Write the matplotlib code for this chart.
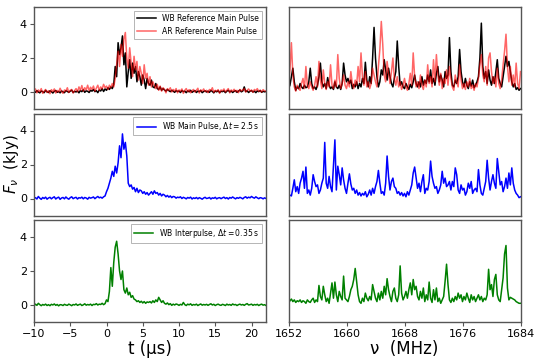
import numpy as np
import matplotlib
matplotlib.use("Agg")
import matplotlib.pyplot as plt

# time axis (us), 0.2 us bins
t = np.linspace(-10, 22, 161)
# frequency axis (MHz), 0.2 MHz channels
nu = np.linspace(1652, 1684, 161)

# ---- pulse profiles (kJy) ----
wb_ref_t = [
    0.05, -0.02, 0.08, 0.00, -0.05, 0.06, 0.02, -0.04, 0.10, 0.01,
    -0.03, 0.07, 0.02, -0.06, 0.04, 0.09, -0.02, 0.03, -0.05, 0.06,
    0.01, -0.04, 0.08, 0.03, -0.02, 0.05, 0.11, -0.03, 0.04, 0.00,
    0.06, -0.05, 0.09, 0.02, 0.13, -0.02, 0.07, 0.04, -0.03, 0.10,
    0.05, 0.15, 0.02, 0.08, -0.04, 0.12, 0.06, 0.20, 0.03, 0.18,
    0.10, 0.25, 0.15, 0.30, 0.20, 0.45, 1.50, 0.90, 2.90, 2.20,
    2.60, 3.30, 1.60, 2.30, 0.30, 1.20, 1.90, 0.80, 1.70, 1.10,
    1.50, 0.60, 1.20, 0.90, 0.40, 1.00, 0.70, 0.20, 0.80, 0.50,
    0.40, 0.70, 0.30, 0.25, 0.50, 0.20, 0.15, 0.30, 0.10, 0.20,
    0.12, 0.05, 0.15, 0.08, 0.02, 0.10, 0.05, -0.02, 0.08, 0.03,
    0.06, -0.03, 0.09, 0.02, 0.05, -0.04, 0.07, 0.01, 0.10, -0.02,
    0.04, 0.08, -0.03, 0.05, 0.02, 0.09, -0.04, 0.03, 0.07, 0.00,
    0.05, -0.02, 0.10, 0.03, -0.05, 0.06, 0.01, 0.08, -0.03, 0.04,
    0.02, 0.07, -0.04, 0.05, 0.10, 0.00, 0.06, -0.03, 0.04, 0.08,
    -0.02, 0.05, 0.12, 0.01, 0.06, 0.30, 0.02, 0.07, -0.03, 0.05,
    0.08, 0.00, 0.05, -0.04, 0.06, 0.02, 0.09, -0.02, 0.04, 0.01,
    0.03]
ar_ref_t = [
    0.10, 0.18, -0.05, 0.12, 0.02, 0.20, -0.08, 0.05, 0.15, -0.03,
    0.08, -0.10, 0.14, 0.03, 0.18, -0.06, 0.09, 0.00, 0.22, 0.04,
    -0.08, 0.12, 0.05, 0.25, -0.03, 0.10, 0.15, -0.06, 0.08, 0.20,
    0.02, 0.30, 0.10, 0.38, 0.05, 0.25, 0.12, 0.40, 0.08, 0.28,
    0.15, 0.35, 0.05, 0.22, 0.40, 0.10, 0.30, 0.18, 0.45, 0.25,
    0.35, 0.15, 0.40, 0.25, 0.50, 0.30, 0.80, 1.60, 2.40, 1.50,
    2.80, 2.10, 3.10, 3.50, 2.00, 1.40, 2.60, 1.70, 0.90, 2.10,
    1.30, 1.80, 0.70, 1.50, 1.10, 0.50, 1.60, 0.80, 1.10, 0.40,
    0.90, 0.30, 0.60, 0.40, 0.20, 0.45, 0.10, 0.35, 0.05, 0.25,
    0.15, -0.05, 0.20, 0.10, 0.25, 0.00, 0.15, 0.05, 0.20, -0.05,
    0.12, 0.05, 0.18, -0.08, 0.10, 0.20, 0.02, 0.14, -0.05, 0.08,
    0.15, 0.00, 0.10, 0.22, -0.06, 0.12, 0.05, 0.18, 0.02, 0.10,
    -0.04, 0.15, 0.08, 0.25, -0.02, 0.10, 0.05, 0.14, -0.08, 0.12,
    0.06, 0.18, 0.00, 0.10, 0.20, -0.05, 0.12, 0.04, 0.16, 0.02,
    0.10, -0.04, 0.15, 0.06, 0.12, 0.20, 0.00, 0.10, 0.18, 0.05,
    0.12, -0.02, 0.15, 0.08, 0.20, 0.04, 0.10, 0.00, 0.14, 0.06,
    0.05]
wb_main_t = [
    0.00, 0.05, -0.03, 0.12, 0.02, -0.05, 0.06, 0.00, 0.08, -0.04,
    0.03, 0.07, -0.02, 0.05, 0.10, -0.03, 0.04, 0.08, -0.05, 0.03,
    0.06, -0.02, 0.09, 0.01, -0.04, 0.05, 0.10, -0.01, 0.04, 0.07,
    -0.03, 0.05, 0.02, 0.08, -0.02, 0.06, 0.03, -0.04, 0.07, 0.02,
    0.05, 0.09, -0.01, 0.06, 0.12, 0.04, 0.08, 0.02, 0.10, 0.15,
    0.40, 0.60, 0.90, 1.20, 1.60, 1.30, 1.90, 1.50, 2.10, 3.10,
    2.40, 3.80, 2.90, 3.30, 2.50, 0.90, 0.70, 0.80, 0.55, 0.65,
    0.40, 0.60, 0.35, 0.50, 0.45, 0.30, 0.40, 0.25, 0.35, 0.20,
    0.30, 0.40, 0.25, 0.45, 0.30, 0.35, 0.20, 0.30, 0.15, 0.25,
    0.20, 0.10, 0.18, 0.08, 0.15, 0.05, 0.12, 0.10, 0.02, 0.08,
    0.05, 0.10, 0.00, 0.07, 0.03, -0.02, 0.06, 0.02, 0.08, -0.03,
    0.04, 0.00, 0.06, -0.02, 0.05, 0.01, -0.04, 0.03, 0.07, 0.00,
    0.02, 0.06, -0.03, 0.04, 0.01, 0.07, -0.02, 0.03, 0.05, -0.01,
    0.04, 0.08, 0.00, 0.05, -0.03, 0.06, 0.02, 0.09, 0.03, -0.02,
    0.05, 0.01, 0.07, 0.03, -0.02, 0.06, 0.10, 0.02, 0.08, 0.04,
    0.12, 0.06, 0.02, 0.10, 0.04, -0.01, 0.05, 0.03, -0.02, 0.04,
    0.00]
wb_inter_t = [
    -0.05, 0.05, -0.02, 0.10, 0.02, -0.04, 0.03, -0.01, 0.05, -0.03,
    0.02, -0.04, 0.04, 0.00, 0.06, -0.02, 0.03, -0.05, 0.02, 0.01,
    -0.03, 0.04, 0.00, -0.02, 0.05, 0.01, -0.04, 0.03, 0.00, 0.06,
    -0.02, 0.02, 0.05, -0.03, 0.01, 0.07, -0.01, 0.03, 0.00, 0.05,
    -0.03, 0.04, 0.02, 0.08, 0.00, 0.05, 0.03, 0.10, 0.02, 0.08,
    0.30, 0.20, 0.80, 2.20, 1.10, 2.50, 3.40, 3.75, 3.00, 2.00,
    1.50, 2.00, 0.90, 0.70, 1.00, 0.60, 0.75, 0.45, 0.55, 0.35,
    0.30, 0.20, 0.25, 0.15, 0.22, 0.12, 0.20, 0.10, 0.18, 0.15,
    0.20, 0.12, 0.25, 0.15, 0.30, 0.20, 0.45, 0.30, 0.15, 0.25,
    0.10, 0.05, 0.12, 0.02, 0.08, -0.02, 0.05, 0.00, 0.06, 0.03,
    -0.02, 0.04, 0.00, 0.15, 0.02, -0.03, 0.05, 0.01, 0.07, -0.02,
    0.03, 0.00, 0.05, -0.03, 0.02, 0.06, -0.01, 0.03, 0.00, 0.04,
    -0.02, 0.03, 0.07, 0.00, 0.04, -0.03, 0.02, 0.05, 0.00, -0.02,
    0.04, 0.01, -0.03, 0.05, 0.00, 0.03, -0.02, 0.06, 0.01, 0.03,
    -0.03, 0.02, 0.05, 0.00, 0.03, -0.02, 0.04, 0.08, 0.00, 0.02,
    0.05, -0.02, 0.03, 0.00, 0.04, -0.03, 0.02, 0.05, -0.01, 0.02,
    -0.03]

# ---- spectra (kJy) ----
wb_ref_nu = [
    0.2, 0.4, 0.9, 1.4, 0.6, 0.1, 0.3, 0.2, 0.5, 0.3,
    0.2, 0.4, 0.25, 0.3, 0.6, 1.4, 0.5, 0.2, 0.3, 0.15,
    0.4, 0.9, 1.7, 0.6, 0.3, 0.5, 0.2, 0.85, 0.4, 0.2,
    0.3, 0.15, 0.6, 0.3, 0.2, 0.4, 0.15, 0.5, 1.7, 1.0,
    0.6, 0.8, 0.5, 0.7, 0.2, 0.45, 0.3, 0.6, 0.2, 0.5,
    0.3, 0.8, 0.5, 1.75, 0.7, 0.3, 0.9, 0.5, 2.0, 3.8,
    2.0, 0.9, 0.3, 0.6, 1.3, 1.0, 1.9, 1.3, 0.7, 1.4,
    0.9, 0.5, 0.3, 0.8, 1.2, 3.0, 1.5, 0.4, 0.6, 0.3,
    0.2, 0.5, 0.3, 0.15, 0.45, 0.25, 0.6, 1.0, 0.5, 0.3,
    0.6, 0.3, 0.9, 0.4, 0.7, 0.5, 1.0, 0.6, 1.3, 0.5,
    0.8, 0.4, 1.1, 1.5, 0.6, 1.0, 0.7, 0.3, 1.2, 0.8,
    1.0, 3.2, 1.2, 0.4, 0.3, 0.7, 0.5, 0.9, 2.5, 1.2,
    0.6, 0.3, 0.8, 0.4, 0.2, 0.6, 0.35, 0.7, 0.25, 0.4,
    0.6, 0.9, 2.0, 4.05, 1.5, 0.8, 1.2, 0.5, 1.3, 0.7,
    0.4, 0.9, 0.5, 1.2, 1.9, 0.8, 0.5, 0.3, 0.9, 1.5,
    2.1, 1.5, 1.8, 1.2, 0.6, 0.3, 0.5, 0.15, 0.25, 0.1,
    0.2]
ar_ref_nu = [
    0.5, 1.3, 2.9, 1.0, 0.3, 0.05, 0.4, 0.2, 0.1, 0.5,
    0.8, 0.2, 1.5, 0.4, 0.2, 0.6, 0.3, 0.1, 0.4, 0.9,
    0.3, 1.8, 0.7, 0.2, 1.3, 0.5, 0.15, 0.6, 0.3, 1.6,
    0.4, 0.2, 0.7, 0.3, 2.2, 0.8, 0.2, 0.5, 1.0, 0.4,
    0.2, 0.6, 0.3, 1.2, 0.5, 0.2, 0.7, 0.4, 1.5, 0.6,
    2.3, 0.9, 0.4, 1.2, 0.3, 0.6, 0.2, 0.5, 1.4, 1.0,
    0.6, 0.3, 1.5, 2.5, 4.15, 2.8, 1.0, 0.6, 1.8, 1.1,
    0.5, 1.2, 2.0, 0.8, 0.4, 0.9, 0.3, 0.6, 0.15, 0.4,
    0.8, 0.3, 0.1, 0.5, 1.1, 0.4, 2.3, 0.9, 0.3, 0.6,
    0.2, 1.0, 0.4, 0.15, 0.7, 0.3, 1.6, 0.5, 0.9, 0.3,
    1.9, 0.6, 2.2, 1.0, 0.4, 1.1, 0.2, 0.8, 0.5, 1.3,
    0.4, 1.5, 0.8, 0.3, 0.1, 1.0, 0.6, 0.3, 1.6, 0.7,
    0.2, 0.5, 0.15, 0.6, 0.3, 0.8, 0.2, 0.4, 0.1, 0.5,
    0.3, 0.8, 1.6, 2.2, 1.0, 0.6, 1.5, 0.4, 2.0, 2.3,
    1.2, 0.5, 0.9, 0.3, 1.4, 0.5, 0.2, 0.7, 1.6, 2.4,
    3.4, 1.5, 0.6, 1.5, 0.4, 1.0, 0.3, 1.7, 0.5, 0.2,
    1.2]
wb_main_nu = [
    0.1, 0.2, 0.15, 0.6, 1.1, 0.4, 0.7, 0.3, 0.9, 1.2,
    1.6, 0.6, 1.85, 0.3, 0.5, 0.2, 0.6, 1.4, 1.0, 0.7,
    0.8, 0.3, 0.5, 0.9, 1.2, 3.3, 0.9, 0.6, 1.3, 0.7,
    0.4, 1.9, 3.45, 0.5, 1.9, 1.4, 0.8, 1.8, 1.1, 0.6,
    0.3, 0.9, 1.45, 0.85, 0.5, 0.6, 0.3, 0.5, 0.2, 0.35,
    0.15, 0.3, 0.2, 0.4, 0.1, 0.25, 0.5, 0.2, 0.6, 0.3,
    0.7, 1.0, 1.65, 0.9, 0.3, 0.4, 0.2, 0.9, 2.5, 1.3,
    0.5, 1.0, 1.2, 0.7, 0.6, 0.3, 0.4, 0.2, 0.35, 0.15,
    0.3, 0.1, 0.4, 0.2, 0.5, 0.8, 1.5, 1.85, 1.2, 0.6,
    0.9, 0.4, 1.0, 1.4, 0.3, 0.6, 0.5, 1.0, 2.2, 1.3,
    0.9, 0.6, 0.7, 0.3, 0.5, 0.8, 1.6, 0.9, 1.2, 0.7,
    0.8, 1.0, 0.5, 1.0, 0.7, 1.8, 1.4, 0.5, 0.3, 0.8,
    0.5, 0.6, 0.2, 0.4, 0.9, 0.6, 1.0, 0.3, 0.5, 0.6,
    0.4, 1.7, 0.8, 0.3, 0.2, 0.6, 1.0, 2.25, 1.2, 0.5,
    1.0, 1.4, 0.9, 0.6, 2.35, 1.6, 0.8, 1.0, 0.4, 0.7,
    1.2, 0.6, 1.5, 0.8, 1.8, 0.9, 0.5, 0.3, 0.2, 0.05,
    0.1]
wb_inter_nu = [
    0.1, 0.25, 0.35, 0.2, 0.3, 0.15, 0.25, 0.2, 0.3, 0.15,
    0.25, 0.2, 0.1, 0.3, 0.2, 0.15, 0.3, 0.4, 0.15, 0.3,
    0.2, 1.15, 0.5, 0.3, 1.1, 0.6, 0.2, 0.4, 0.1, 0.7,
    1.3, 0.4, 1.35, 0.6, 0.2, 0.8, 0.5, 0.3, 1.7, 0.4,
    0.3, 0.2, 0.5, 0.9, 1.1, 1.5, 2.15, 1.4, 0.6, 0.2,
    0.1, 0.4, 0.2, 0.7, 0.4, 0.25, 0.5, 0.3, 1.2, 0.8,
    0.4, 0.2, 0.7, 0.3, 0.8, 0.4, 1.1, 0.6, 1.55, 0.9,
    0.5, 0.2, 0.8, 1.0, 0.4, 0.2, 0.6, 2.3, 0.7, 0.3,
    0.5, 0.8, 0.4, 0.9, 1.3, 0.6, 1.5, 0.9, 1.1, 0.5,
    0.3, 0.8, 0.4, 1.0, 0.2, 0.6, 0.3, 1.35, 0.4, 0.15,
    0.9, 0.3, 1.0, 0.2, 0.4, 0.1, 0.3, 0.5, 1.4, 2.4,
    1.2, 0.3, 0.15, 0.4, 0.2, 0.5, 0.3, 0.7, 0.4, 0.6,
    0.2, 0.5, 0.3, 0.7, 0.4, 0.15, 0.6, 0.3, 0.5, 0.2,
    0.4, 0.6, 0.3, 0.5, 0.2, 0.4, 0.3, 0.6, 2.1, 0.9,
    1.2, 0.5, 1.5, 1.8, 0.6, 0.3, 0.2, 0.9, 1.6, 3.0,
    3.5, 1.0, 0.3, 0.45, 0.4, 0.35, 0.3, 0.2, 0.15, 0.1,
    0.1]

fig = plt.figure(figsize=(5.38, 3.61), dpi=100)

lx, rx, w = 34 / 538, 288.5 / 538, 232 / 538
h = 102 / 361
bottoms = [1 - 109 / 361, 1 - 215.5 / 361, 1 - 322 / 361]

axes = []
for b in bottoms:
    axl = fig.add_axes([lx, b, w, h])
    axr = fig.add_axes([rx, b, w, h])
    axes.append((axl, axr))

spine_col = "#555555"
for i, (axl, axr) in enumerate(axes):
    for ax in (axl, axr):
        ax.set_ylim(-1, 5)
        for s in ax.spines.values():
            s.set_color(spine_col)
            s.set_linewidth(1.0)
        ax.tick_params(labelsize=8, length=3, width=0.8, color=spine_col, pad=2)
    axl.set_xlim(-10, 22)
    axr.set_xlim(1652, 1684)
    axl.set_yticks([0, 2, 4])
    axr.set_yticks([])
    if i < 2:
        axl.tick_params(bottom=False, labelbottom=False)
        axr.tick_params(bottom=False, labelbottom=False)

lw = 1.1

# row 1: reference main pulse
axl, axr = axes[0]
axl.plot(t, wb_ref_t, color="black", lw=lw, label="WB Reference Main Pulse")
axl.plot(t, ar_ref_t, color="red", lw=lw, alpha=0.6, label="AR Reference Main Pulse")
axr.plot(nu, wb_ref_nu, color="black", lw=lw)
axr.plot(nu, ar_ref_nu, color="red", lw=lw, alpha=0.6)

# row 2: WB main pulse
axl, axr = axes[1]
axl.plot(t, wb_main_t, color="blue", lw=lw, label=r"WB Main Pulse, $\Delta t = 2.5\,$s")
axr.plot(nu, wb_main_nu, color="blue", lw=lw)
axl.set_ylabel(r"$F_\nu$  (kJy)", fontsize=11)
axl.yaxis.set_label_coords(-0.055, 0.5)

# row 3: WB interpulse
axl, axr = axes[2]
axl.plot(t, wb_inter_t, color="green", lw=lw, label=r"WB Interpulse, $\Delta t = 0.35\,$s")
axr.plot(nu, wb_inter_nu, color="green", lw=lw)
axl.set_xticks([-10, -5, 0, 5, 10, 15, 20])
axr.set_xticks([1652, 1660, 1668, 1676, 1684])
axl.set_xlabel(r"t (μs)", fontsize=12, labelpad=1)
axr.set_xlabel(r"ν  (MHz)", fontsize=12, labelpad=1)

for axl, _ in axes:
    leg = axl.legend(loc="upper right", fontsize=5.5, handlelength=2.5, borderpad=0.4,
                     framealpha=1, fancybox=False)
    leg.get_frame().set_edgecolor("#aaaaaa")
    leg.get_frame().set_linewidth(0.6)

fig.savefig("out.png", dpi=100)
